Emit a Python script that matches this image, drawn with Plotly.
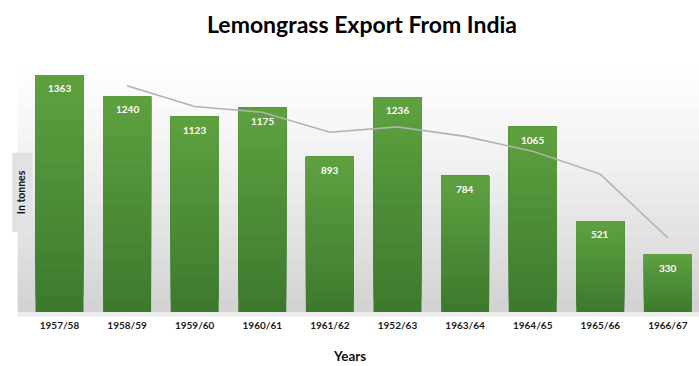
import plotly.graph_objects as go

# Lemongrass export from India, in tonnes
years = ["1957/58", "1958/59", "1959/60", "1960/61", "1961/62",
         "1952/63", "1963/64", "1964/65", "1965/66", "1966/67"]
export_tonnes = [1363, 1240, 1123, 1175, 893, 1236, 784, 1065, 521, 330]

# two-period moving average trendline (starts at the second year)
trend_values = [(a + b) / 2 for a, b in zip(export_tonnes[:-1], export_tonnes[1:])]

FONT = "Lato"
xpos = list(range(len(years)))
fig = go.Figure()

# bars shaded from dark green at the base to lighter green at the top:
# each layer starts a little higher up the same bar
BANDS = 16
dark, light = (62, 122, 46), (94, 160, 64)
for k in range(BANDS):
    t = k / (BANDS - 1)
    r, g, b = (round(d + (l - d) * t) for d, l in zip(dark, light))
    frac = k / BANDS
    fig.add_trace(go.Bar(
        x=xpos, y=[v * (1 - frac) for v in export_tonnes],
        base=[v * frac for v in export_tonnes],
        width=0.71,
        marker=dict(color=f"rgb({r},{g},{b})", line=dict(width=0)),
        hoverinfo="skip" if k else "x+y",
    ))

fig.add_trace(go.Scatter(
    x=xpos[1:], y=trend_values,
    mode="lines", line=dict(color="#b2b2ae", width=1.6),
    hoverinfo="skip",
))

# value labels near the top of each bar
for i, v in enumerate(export_tonnes):
    fig.add_annotation(x=i, y=v, text=f"<b>{v}</b>", showarrow=False,
                       yshift=-13, font=dict(family=FONT, size=10, color="white"))

# vertical background gradient of the plot area
shapes = []
n = 24
for k in range(n):
    t = k / (n - 1)
    y0 = 1 - k / n
    y1 = 1 - (k + 1) / n
    g = int(255 - 44 * t ** 1.3)
    shapes.append(dict(type="rect", xref="paper", yref="paper",
                       x0=-0.011, x1=1.0, y0=y1, y1=y0 + 0.002,
                       fillcolor=f"rgb({g},{g},{g})", line=dict(width=0), layer="below"))
# soft fade below the baseline
shapes.append(dict(type="rect", xref="paper", yref="paper",
                   x0=-0.011, x1=1.0, y0=-0.018, y1=0.0,
                   fillcolor="rgb(236,236,236)", line=dict(width=0), layer="below"))
# panel behind the y-axis title
shapes.append(dict(type="rect", xref="paper", yref="paper",
                   x0=-0.019, x1=0.011, y0=0.31, y1=0.62,
                   fillcolor="rgb(226,226,226)", line=dict(width=0), layer="below"))

fig.add_annotation(xref="paper", yref="paper", x=-0.005, y=0.465,
                   xanchor="center", yanchor="middle",
                   text="<b>In tonnes</b>", textangle=-90, showarrow=False,
                   font=dict(family=FONT, size=10.5, color="#111"))
fig.add_annotation(xref="paper", yref="paper", x=0.482, y=-0.172, yanchor="middle",
                   text="<b>Years</b>", showarrow=False,
                   font=dict(family=FONT, size=13.5, color="#111"))

fig.update_layout(
    width=699, height=366,
    margin=dict(l=25, r=0, t=55, b=54),
    paper_bgcolor="white", plot_bgcolor="rgba(0,0,0,0)",
    barmode="overlay",
    title=dict(text="<b>Lemongrass Export From India</b>", x=0.5, xref="paper",
               xanchor="center", y=0.933, yanchor="middle",
               font=dict(family=FONT, size=23, color="#000")),
    showlegend=False,
    shapes=shapes,
    xaxis=dict(tickmode="array", tickvals=xpos, ticktext=years,
               range=[-0.51, 9.46], showgrid=False, zeroline=False, showline=False,
               ticks="", ticklabelstandoff=6,
               tickfont=dict(family=FONT, size=10, color="#1a1a1a", weight="bold")),
    yaxis=dict(range=[0, 1478], showgrid=False, zeroline=False, showline=False,
               showticklabels=False, ticks=""),
)

fig.write_html("out.html")
